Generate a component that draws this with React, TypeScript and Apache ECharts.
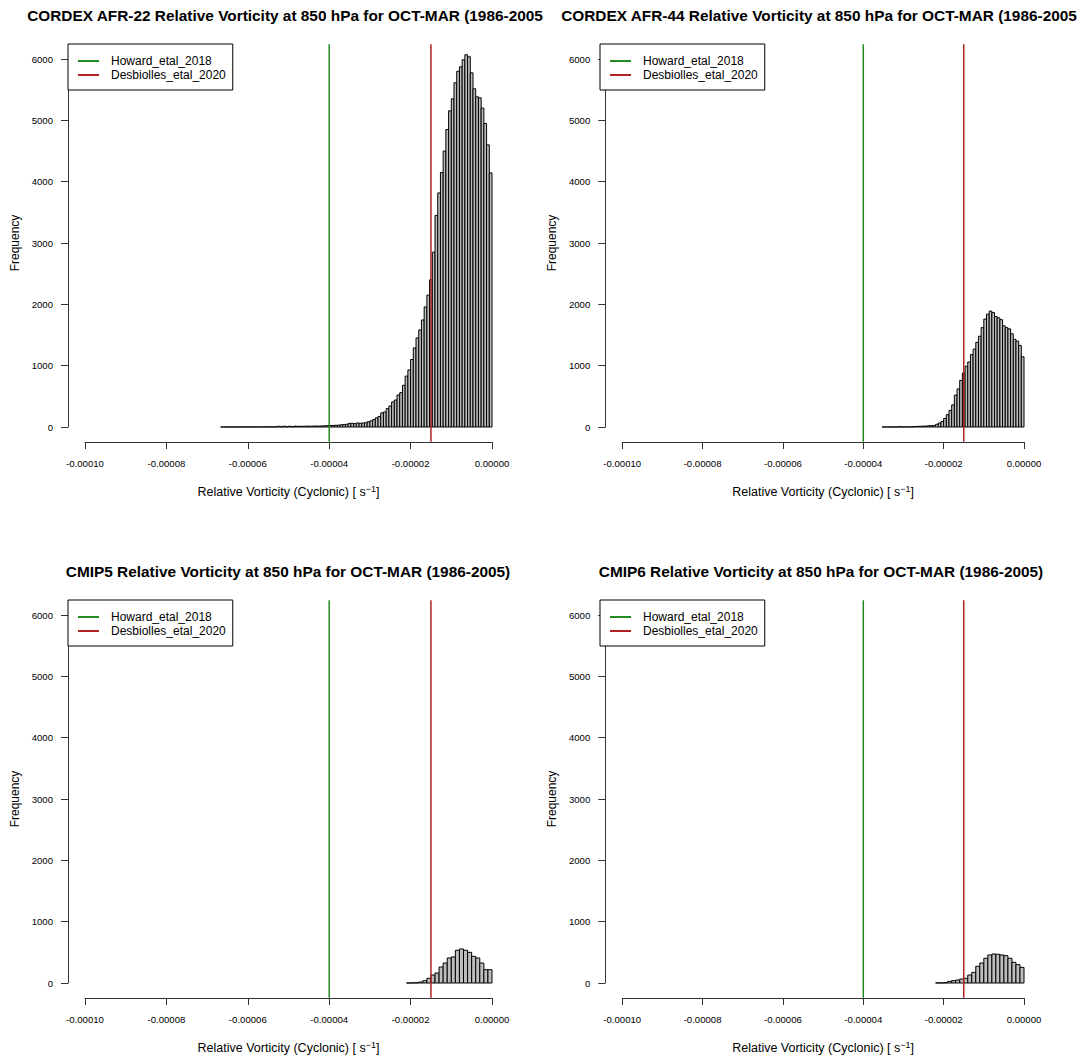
import React, { useEffect, useRef } from "react";
import * as echarts from "echarts";

// ---------------- data ----------------
const xMin = -0.0001;
const xMax = 0;
const xInterval = 0.00002;
const yMin = 0;
const yMax = 6000;
const yInterval = 1000;

const howardThreshold = -0.00004; // Howard_etal_2018
const desbiollesThreshold = -0.000015; // Desbiolles_etal_2020

// CORDEX AFR-22 histogram (bin width 6.667e-7, from -6.667e-5 to 0)
const afr22Start = -6.667e-5;
const afr22BinWidth = 6.667e-7;
const afr22Counts = [
  1, 0, 0, 1, 0, 0, 1, 0, 1, 1, 0, 1, 1, 1, 2, 1, 2, 2, 3, 2,
  3, 12, 2, 12, 3, 12, 4, 14, 10, 12, 11, 13, 14, 13, 15, 16, 15, 18, 19, 22,
  24, 25, 28, 30, 36, 40, 45, 58, 60, 55, 65, 62, 65, 70, 85, 100, 120, 150, 170, 230,
  245, 300, 343, 408, 440, 522, 560, 680, 830, 930, 1100, 1289, 1452, 1582, 1745, 1958, 2150, 2400, 2850, 3450,
  3817, 4150, 4500, 4850, 5155, 5350, 5612, 5800, 5873, 5987, 6069, 6036, 5775, 5514, 5383, 5367, 5200, 4950, 4600, 4143,
];

// CORDEX AFR-44 histogram (bin width 6.667e-7, from -3.533e-5 to 0)
const afr44Start = -3.5335e-5;
const afr44BinWidth = 6.667e-7;
const afr44Counts = [
  1, 0, 1, 0, 0, 1, 6, 1, 1, 2, 2, 3, 8, 10, 12, 15, 15, 20, 22, 25,
  45, 65, 90, 140, 200, 270, 360, 520, 620, 760, 880, 990, 1060, 1180, 1270, 1380, 1480, 1620, 1760, 1840,
  1890, 1865, 1800, 1780, 1750, 1650, 1620, 1600, 1520, 1430, 1400, 1330, 1145,
];

// CMIP5 histogram (bin width 1e-6, from -2.1e-5 to 0)
const cmip5Start = -2.1e-5;
const cmip5BinWidth = 1e-6;
const cmip5Counts = [
  1, 2, 4, 16, 38, 76, 130, 163, 261, 326, 408, 425, 533, 555, 533, 500, 435, 408, 326, 217, 217,
];

// CMIP6 histogram (bin width 1e-6, from -2.2e-5 to 0)
const cmip6Start = -2.2e-5;
const cmip6BinWidth = 1e-6;
const cmip6Counts = [
  2, 3, 5, 27, 38, 49, 65, 76, 130, 174, 272, 326, 403, 457, 473, 468, 457, 446, 403, 337, 299, 255,
];

// titles as visible in the figure (top titles run off the panel edge)
const titles = [
  "CORDEX AFR-22 Relative Vorticity at 850 hPa for OCT-MAR (1986-2005",
  "CORDEX AFR-44 Relative Vorticity at 850 hPa for OCT-MAR (1986-2005",
  "CMIP5 Relative Vorticity at 850 hPa for OCT-MAR (1986-2005)",
  "CMIP6 Relative Vorticity at 850 hPa for OCT-MAR (1986-2005)",
];
const legendNames = ["Howard_etal_2018", "Desbiolles_etal_2020"];
const xAxisTitle = "Relative Vorticity (Cyclonic) [ s{sup|\u22121}]";
const yAxisTitle = "Frequency";

// ---------------- styles ----------------
const FONT = "'Liberation Sans', Arial, Helvetica, sans-serif";
const GREEN = "#228B22";
const RED = "#B22222";
const BAR_FILL = "#BEBEBE";
const AXIS_COLOR = "#333333";
const PANEL_H = 556;

type PanelCfg = {
  title: string;
  start: number;
  width: number;
  counts: number[];
  left: number;
  top: number;
  divW: number;
  gridLeft: number;
  titleX: number;
  legendLeft: number;
};

function buildOption(cfg: PanelCfg) {
  const bins = cfg.counts.map((c, i) => [
    cfg.start + i * cfg.width,
    cfg.start + (i + 1) * cfg.width,
    c,
  ]);
  const gridW = 407;
  const yPad = (yMax - yMin) * 0.04;
  const vline = (name: string, x: number, color: string) => ({
    type: "line",
    name,
    data: [
      [x, yMin - yPad],
      [x, yMax + yPad],
    ],
    symbol: "none",
    clip: false,
    silent: true,
    color,
    itemStyle: { color },
    lineStyle: { color, width: 1.5 },
    z: 5,
  });
  return {
    animation: false,
    backgroundColor: "transparent",
    title: {
      text: cfg.title,
      left: cfg.titleX,
      top: 8,
      padding: 0,
      textAlign: "center",
      textStyle: { fontFamily: FONT, fontSize: 15.4, fontWeight: "bold", color: "#000" },
    },
    legend: {
      orient: "vertical",
      left: cfg.legendLeft,
      top: 44,
      padding: [10, 7, 8, 10],
      itemGap: 0,
      itemWidth: 21,
      itemHeight: 2,
      selectedMode: false,
      borderColor: "#000",
      borderWidth: 1,
      backgroundColor: "#fff",
      data: [
        { name: legendNames[0], icon: "rect" },
        { name: legendNames[1], icon: "rect" },
      ],
      textStyle: {
        fontFamily: FONT,
        fontSize: 12,
        lineHeight: 14,
        color: "#000",
        padding: [0, 0, 0, 7],
      },
    },
    grid: {
      left: cfg.gridLeft,
      width: gridW,
      top: 59,
      height: 368,
    },
    xAxis: {
      type: "value",
      min: xMin,
      max: xMax,
      interval: xInterval,
      offset: 15,
      axisLine: { show: true, onZero: false, lineStyle: { color: AXIS_COLOR, width: 1 } },
      axisTick: { show: true, length: 7, lineStyle: { color: AXIS_COLOR, width: 1 } },
      axisLabel: {
        fontFamily: FONT,
        fontSize: 9.6,
        color: "#000",
        margin: 16,
        formatter: (v: number) => v.toFixed(5),
      },
      splitLine: { show: false },
      name: xAxisTitle,
      nameLocation: "middle",
      nameGap: 42,
      nameTextStyle: {
        fontFamily: FONT,
        fontSize: 12.5,
        color: "#000",
        lineHeight: 16,
        rich: {
          sup: { fontFamily: FONT, fontSize: 9, color: "#000", verticalAlign: "top", lineHeight: 10 },
        },
      },
    },
    yAxis: {
      type: "value",
      min: yMin,
      max: yMax,
      interval: yInterval,
      offset: 17,
      axisLine: { show: true, onZero: false, lineStyle: { color: AXIS_COLOR, width: 1 } },
      axisTick: { show: true, length: 7, lineStyle: { color: AXIS_COLOR, width: 1 } },
      axisLabel: {
        fontFamily: FONT,
        fontSize: 9.6,
        color: "#000",
        margin: 15,
        formatter: (v: number) => String(v),
      },
      splitLine: { show: false },
      name: yAxisTitle,
      nameLocation: "middle",
      nameGap: 39,
      nameTextStyle: { fontFamily: FONT, fontSize: 12, color: "#000" },
    },
    series: [
      {
        type: "custom",
        name: "hist",
        silent: true,
        encode: { x: [0, 1], y: 2 },
        data: bins,
        renderItem: (params: any, api: any) => {
          const p0 = api.coord([api.value(0), api.value(2)]);
          const p1 = api.coord([api.value(1), 0]);
          return {
            type: "rect",
            shape: { x: p0[0], y: p0[1], width: p1[0] - p0[0], height: p1[1] - p0[1] },
            style: { fill: BAR_FILL, stroke: "#000", lineWidth: 1 },
          };
        },
        z: 2,
      },
      vline(legendNames[0], howardThreshold, GREEN),
      vline(legendNames[1], desbiollesThreshold, RED),
    ],
  };
}

const panels: PanelCfg[] = [
  { title: titles[0], start: afr22Start, width: afr22BinWidth, counts: afr22Counts, left: 0, top: 0, divW: 546, gridLeft: 85, titleX: 285, legendLeft: 68 },
  { title: titles[1], start: afr44Start, width: afr44BinWidth, counts: afr44Counts, left: 538, top: 0, divW: 539, gridLeft: 79, titleX: 281, legendLeft: 62 },
  { title: titles[2], start: cmip5Start, width: cmip5BinWidth, counts: cmip5Counts, left: 0, top: 556, divW: 546, gridLeft: 85, titleX: 288, legendLeft: 68 },
  { title: titles[3], start: cmip6Start, width: cmip6BinWidth, counts: cmip6Counts, left: 538, top: 556, divW: 539, gridLeft: 79, titleX: 283, legendLeft: 62 },
];

function Panel({ cfg }: { cfg: PanelCfg }) {
  const ref = useRef<HTMLDivElement>(null);
  useEffect(() => {
    if (!ref.current) return;
    const chart = echarts.init(ref.current, null, { renderer: "svg" });
    chart.setOption(buildOption(cfg) as any);
    return () => chart.dispose();
  }, [cfg]);
  return (
    <div
      ref={ref}
      style={{
        position: "absolute",
        left: cfg.left,
        top: cfg.top,
        width: cfg.divW,
        height: PANEL_H,
        overflow: "hidden",
      }}
    />
  );
}

export default function App() {
  return (
    <div
      style={{
        position: "fixed",
        left: 0,
        top: 0,
        width: 1077,
        height: 1060,
        overflow: "hidden",
        background: "#fff",
      }}
    >
      {panels.map((p, i) => (
        <Panel key={i} cfg={p} />
      ))}
    </div>
  );
}
